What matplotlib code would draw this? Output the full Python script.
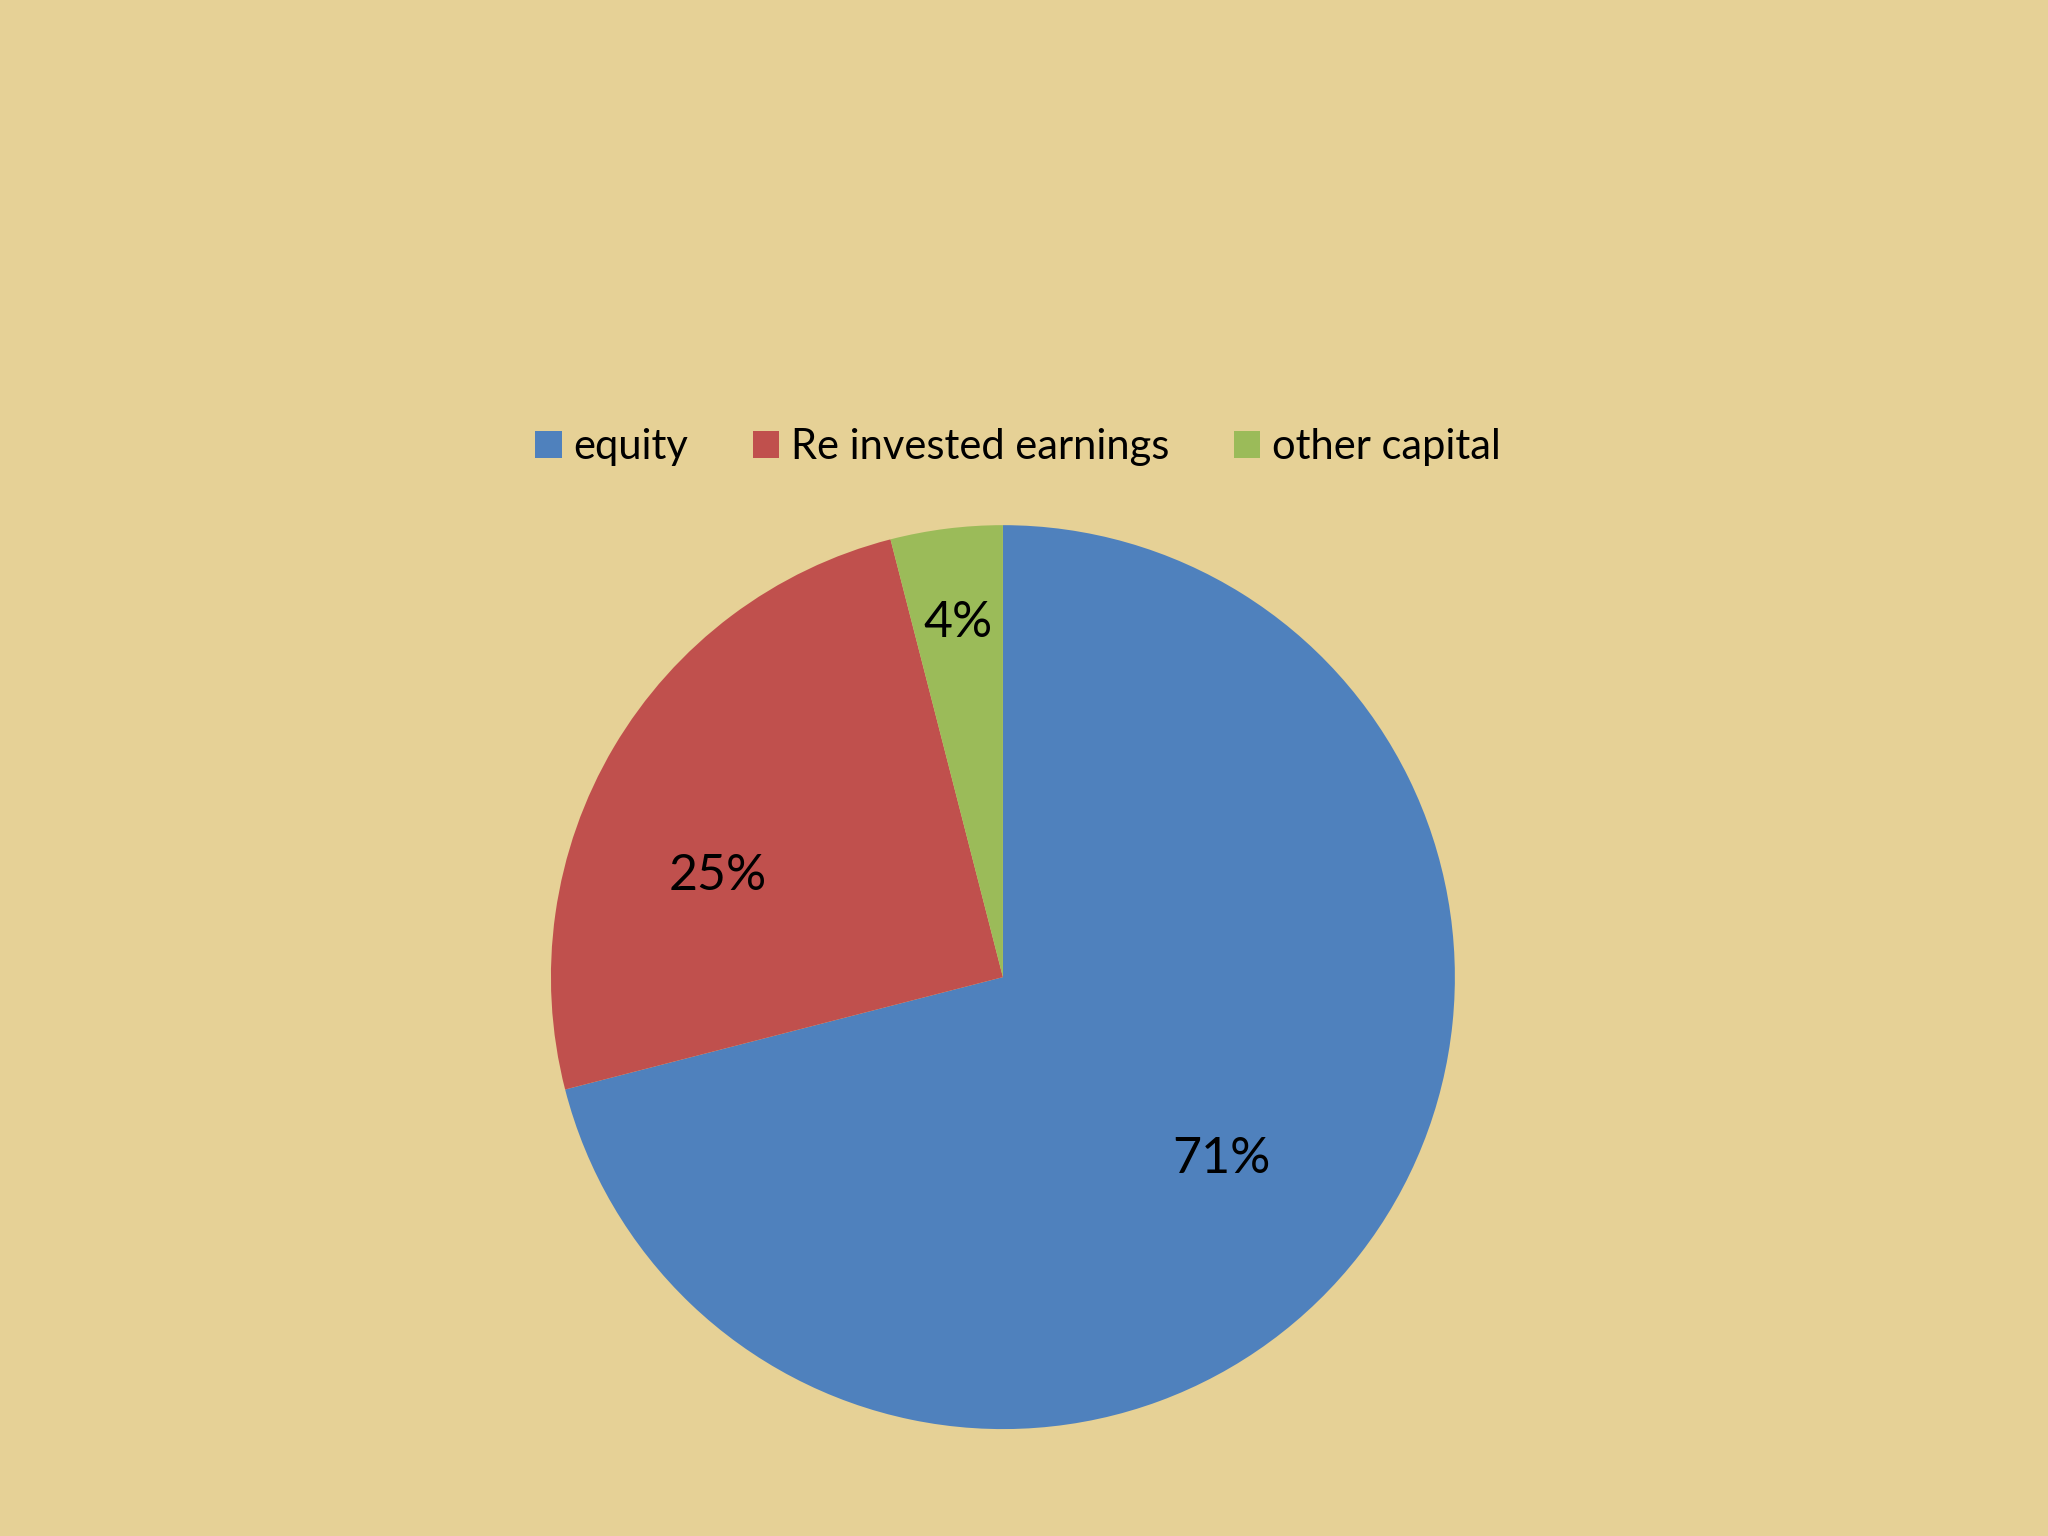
import numpy as np
import matplotlib
matplotlib.use("Agg")
import matplotlib.pyplot as plt

# data
labels = ["equity", "Re invested earnings", "other capital"]
shares = [71, 25, 4]
colors = ["#4F81BD", "#C0504D", "#9BBB59"]

# where each percentage sits (radius fraction, angle tweak in degrees)
label_dist = [0.63, 0.67, 0.79]
label_shift = [-2, 11, 0]

plt.rcParams["font.family"] = ["Lato", "DejaVu Sans"]

fig = plt.figure(figsize=(20.48, 15.36), dpi=100)
fig.patch.set_facecolor("#E6D196")

ax = fig.add_axes([0.269, 0.0696, 0.4414, 0.5885])
ax.set_facecolor("none")

wedges, texts, autotexts = ax.pie(
    shares, colors=colors, startangle=90, counterclock=False,
    autopct="%d%%", textprops={"fontsize": 36, "color": "black"},
    wedgeprops={"linewidth": 0})

# move the percentages to roughly where they sit in the original
for w, t, d, s in zip(wedges, autotexts, label_dist, label_shift):
    ang = np.deg2rad((w.theta1 + w.theta2) / 2 + s)
    t.set_position((d * np.cos(ang), d * np.sin(ang)))

ax.set_xlim(-1, 1)
ax.set_ylim(-1, 1)
ax.set_aspect("equal")

fig.legend(wedges, labels, loc="center", bbox_to_anchor=(0.497, 0.709),
           ncol=3, frameon=False, fontsize=30, handlelength=0.63,
           handleheight=0.63, handletextpad=0.28, columnspacing=1.55)

fig.savefig("out.png", dpi=100, facecolor=fig.get_facecolor())
